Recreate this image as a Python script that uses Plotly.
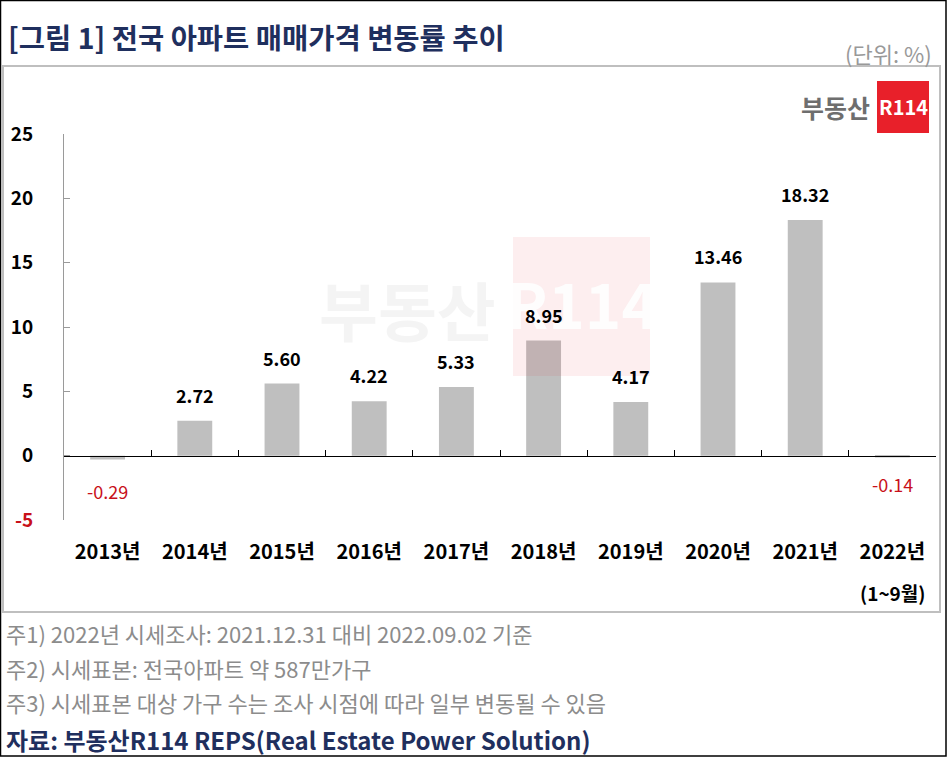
import plotly.graph_objects as go

years = ["2013년", "2014년", "2015년", "2016년", "2017년", "2018년", "2019년", "2020년", "2021년", "2022년"]
values = [-0.29, 2.72, 5.60, 4.22, 5.33, 8.95, 4.17, 13.46, 18.32, -0.14]
value_labels = ["-0.29", "2.72", "5.60", "4.22", "5.33", "8.95", "4.17", "13.46", "18.32", "-0.14"]
y_ticks = [-5, 0, 5, 10, 15, 20, 25]
Y_MIN, Y_MAX = -5, 25

FONT = "Noto Sans CJK KR"
NAVY = "#1F2F5E"
GRAY_TXT = "#8C8C8C"
RED = "#C8101A"

W, H = 947, 757
L, R, T, B = 64, 11, 134, 237
PW = W - L - R
PH = H - T - B


def px(x):
    return (x - L) / PW


def py(y):
    return (H - B - y) / PH


fig = go.Figure()
fig.add_trace(go.Bar(
    x=list(range(len(years))), y=values, width=0.4,
    marker=dict(color="#BFBFBF", line=dict(width=0)),
    hoverinfo="skip",
))
# invisible trace so the category-boundary axis at zero is drawn
fig.add_trace(go.Scatter(x=[0], y=[0], xaxis="x2", mode="markers",
                         marker=dict(opacity=0), hoverinfo="skip"))

ann = []
# watermark (drawn first so labels sit above it)
ann.append(dict(x=px(407), y=py(308), xref="paper", yref="paper", xanchor="center", yanchor="middle",
                text="<b>부동산</b>", showarrow=False, opacity=0.04,
                font=dict(family=FONT, size=64, color="black")))
ann.append(dict(x=px(582), y=py(302), xref="paper", yref="paper", xanchor="center", yanchor="middle",
                text="<b>R114</b>", showarrow=False, opacity=0.9,
                font=dict(family=FONT, size=62, color="white")))

for i, (v, lab) in enumerate(zip(values, value_labels)):
    if v >= 0:
        ann.append(dict(x=i, y=v, xref="x", yref="y", text="<b>%s</b>" % lab,
                        showarrow=False, yanchor="bottom", yshift=11,
                        font=dict(family=FONT, size=18, color="black")))
    else:
        ann.append(dict(x=i, y=v, xref="x", yref="y", text=lab,
                        showarrow=False, yanchor="top", yshift=-17 if v < -0.2 else -12,
                        font=dict(family=FONT, size=18, color=RED)))

# sub-label under 2022
ann.append(dict(x=len(years) - 1, y=py(592), xref="x", yref="paper", text="<b>(1~9월)</b>",
                showarrow=False, yanchor="middle",
                font=dict(family=FONT, size=19, color="black")))

# title
ann.append(dict(x=px(6), y=py(36), xref="paper", yref="paper", xanchor="left", yanchor="middle",
                text="<b>[그림 1] 전국 아파트 매매가격 변동률 추이</b>", showarrow=False,
                font=dict(family=FONT, size=28.5, color=NAVY)))
ann.append(dict(x=px(934), y=py(53), xref="paper", yref="paper", xanchor="right", yanchor="middle",
                text="(단위: %)", showarrow=False,
                font=dict(family=FONT, size=22, color="#999999")))

# logo
ann.append(dict(x=px(872), y=py(107), xref="paper", yref="paper", xanchor="right", yanchor="middle",
                text="<b>부동산</b>", showarrow=False,
                font=dict(family=FONT, size=25, color="#6E6E6E")))
ann.append(dict(x=px(903), y=py(107), xref="paper", yref="paper", xanchor="center", yanchor="middle",
                text="<b>R114</b>", showarrow=False,
                font=dict(family=FONT, size=20, color="white")))

# footnotes
notes = [
    "주1) 2022년 시세조사: 2021.12.31 대비 2022.09.02 기준",
    "주2) 시세표본: 전국아파트 약 587만가구",
    "주3) 시세표본 대상 가구 수는 조사 시점에 따라 일부 변동될 수 있음",
]
for i, n in enumerate(notes):
    ann.append(dict(x=px(4), y=py(633 + 34.5 * i), xref="paper", yref="paper",
                    xanchor="left", yanchor="middle", text=n, showarrow=False,
                    font=dict(family=FONT, size=22, color=GRAY_TXT)))
ann.append(dict(x=px(4), y=py(739), xref="paper", yref="paper", xanchor="left", yanchor="middle",
                text="<b>자료: 부동산R114 REPS(Real Estate Power Solution)</b>", showarrow=False,
                font=dict(family=FONT, size=24, color=NAVY)))

shapes = [
    # outer border
    dict(type="rect", xref="paper", yref="paper", x0=px(0.5), x1=px(946), y0=py(756), y1=py(0.5),
         line=dict(color="black", width=1.5), layer="below"),
    # inner box
    dict(type="rect", xref="paper", yref="paper", x0=px(3), x1=px(940), y0=py(612), y1=py(66),
         line=dict(color="#BFBFBF", width=2), layer="below"),
    # logo red box
    dict(type="rect", xref="paper", yref="paper", x0=px(877), x1=px(929), y0=py(133), y1=py(81),
         fillcolor="#E8202A", line=dict(width=0), layer="above"),
    # watermark pink box
    dict(type="rect", xref="paper", yref="paper", x0=px(513), x1=px(650), y0=py(376), y1=py(237),
         fillcolor="rgba(232,32,42,0.075)", line=dict(width=0), layer="above"),
]

tick_text = []
for t in y_ticks:
    if t < 0:
        tick_text.append("<span style='color:%s'><b>%d</b></span>" % (RED, t))
    else:
        tick_text.append("<b>%d</b>" % t)

fig.update_layout(
    width=W, height=H,
    margin=dict(l=L, r=R, t=T, b=B, pad=0),
    paper_bgcolor="white", plot_bgcolor="white",
    showlegend=False,
    annotations=ann, shapes=shapes,
    xaxis=dict(
        range=[-0.5, len(years) - 0.5], showline=False, showgrid=False, zeroline=False, ticks="",
        tickfont=dict(family=FONT, size=20, color="black"),
        tickvals=list(range(len(years))), ticktext=["<b>%s</b>" % y for y in years],
        ticklabelstandoff=18, fixedrange=True,
    ),
    xaxis2=dict(
        overlaying="x", anchor="free", position=(0 - Y_MIN) / (Y_MAX - Y_MIN), side="bottom",
        range=[-0.5, len(years) - 0.5], showline=True, linecolor="black", linewidth=1.2,
        ticks="inside", ticklen=6, tickcolor="black", tickwidth=1,
        tickvals=[i - 0.5 for i in range(len(years) + 1)], showticklabels=False,
        showgrid=False, zeroline=False, fixedrange=True,
    ),
    yaxis=dict(
        range=[Y_MIN, Y_MAX], tickvals=y_ticks, ticktext=tick_text,
        showline=True, linecolor="#9A9A9A", linewidth=1,
        ticks="inside", ticklen=6, tickcolor="#9A9A9A",
        showgrid=False, zeroline=False,
        tickfont=dict(family=FONT, size=19, color="black"),
        ticklabelstandoff=26, fixedrange=True,
    ),
)

fig.write_html(
    "out.html",
    config={"displayModeBar": False},
    post_script="document.body.style.margin='0';document.body.style.padding='0';document.body.style.overflow='hidden';",
)
